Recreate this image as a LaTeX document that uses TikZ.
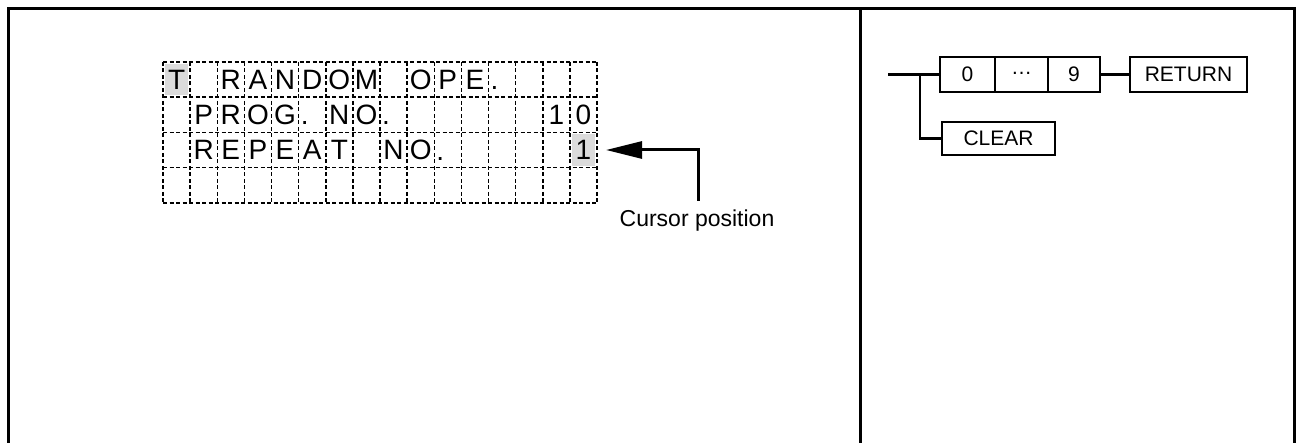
\documentclass[tikz,border=0pt]{standalone}
\usepackage{fontspec}
\setmainfont{Liberation Sans}
\usetikzlibrary{arrows.meta}
\tikzset{
  frameline/.style={line width=3pt, line cap=rect},
  gridline/.style={line width=1.5pt, dash pattern=on 4pt off 2.5pt},
  cellch/.style={inner sep=0pt, font=\fontsize{28}{28}\selectfont},
  shade/.style={fill=gray!28, draw=none},
  pointer/.style={line width=3pt, -{Triangle[length=36pt,width=17pt]}},
  keybox/.style={draw, line width=2.2pt, inner sep=0pt, minimum height=35pt, font=\fontsize{21}{21}\selectfont},
  link/.style={line width=2.2pt},
  label/.style={inner sep=0pt, font=\fontsize{23}{23}\selectfont}
}
\newcommand\cellch[3]{\node[cellch] (c#1-#2) at ({163+(#2-0.5)*27.125},{62+(#1-0.5)*35.25}) {#3};}
\newcommand\celldot[2]{\node[cellch, anchor=base west] (c#1-#2) at ({163+(#2-1)*27.125+2},{62+(#1-0.5)*35.25+10}) {.};}
\begin{document}
\begin{tikzpicture}[x=1pt, y=-1pt]
\useasboundingbox (0,0) rectangle (1298,443);
% outer frame
\draw[frameline] (8,443) -- (8,9) -- (1294,9) -- (1294,443);
\draw[frameline] (860,9) -- (860,443);
% shaded cells
\fill[shade] ({163+2},{62+2}) rectangle ({163+27.125-2},{62+35.25-2});
\fill[shade] ({163+15*27.125+2},{62+2*35.25+2}) rectangle ({163+16*27.125-2},{62+3*35.25-2});
% grid
\foreach \i in {0,...,16} {
  \draw[gridline] ({163+\i*27.125},62) -- ({163+\i*27.125},203);
}
\foreach \j in {0,...,4} {
  \draw[gridline] (163,{62+\j*35.25}) -- (597,{62+\j*35.25});
}
% row 1
\cellch{1}{1}{T}
\cellch{1}{3}{R}\cellch{1}{4}{A}\cellch{1}{5}{N}\cellch{1}{6}{D}\cellch{1}{7}{O}\cellch{1}{8}{M}
\cellch{1}{10}{O}\cellch{1}{11}{P}\cellch{1}{12}{E}\celldot{1}{13}
% row 2
\cellch{2}{2}{P}\cellch{2}{3}{R}\cellch{2}{4}{O}\cellch{2}{5}{G}\celldot{2}{6}
\cellch{2}{7}{N}\cellch{2}{8}{O}\celldot{2}{9}
\cellch{2}{15}{1}\cellch{2}{16}{0}
% row 3
\cellch{3}{2}{R}\cellch{3}{3}{E}\cellch{3}{4}{P}\cellch{3}{5}{E}\cellch{3}{6}{A}\cellch{3}{7}{T}
\cellch{3}{9}{N}\cellch{3}{10}{O}\celldot{3}{11}
\cellch{3}{16}{1}
% cursor pointer
\node[label] (cursor) at (697,221) {Cursor position};
\coordinate (vstart) at (698,201);
\coordinate (tip) at (606,150);
\draw[pointer] (vstart) |- (tip);
% right panel
\node[keybox, minimum width=55pt] (b0) at (967.5,74.5) {0};
\node[keybox, minimum width=53pt] (bdots) at (1021.5,74.5) {\raisebox{0.2ex}{…}};
\node[keybox, minimum width=52pt] (b9) at (1074,74.5) {9};
\node[keybox, minimum width=117pt] (ret) at (1188.5,74.5) {RETURN};
\node[keybox, minimum width=113pt, minimum height=33pt] (clear) at (998.5,138.5) {CLEAR};
\coordinate (start) at (888,74.5);
\coordinate (br) at (920,74.5);
\draw[link] (start) -- (b0.west);
\draw[link] (br) |- (clear.west);
\draw[link] (b9.east) -- (ret.west);
\end{tikzpicture}
\end{document}
